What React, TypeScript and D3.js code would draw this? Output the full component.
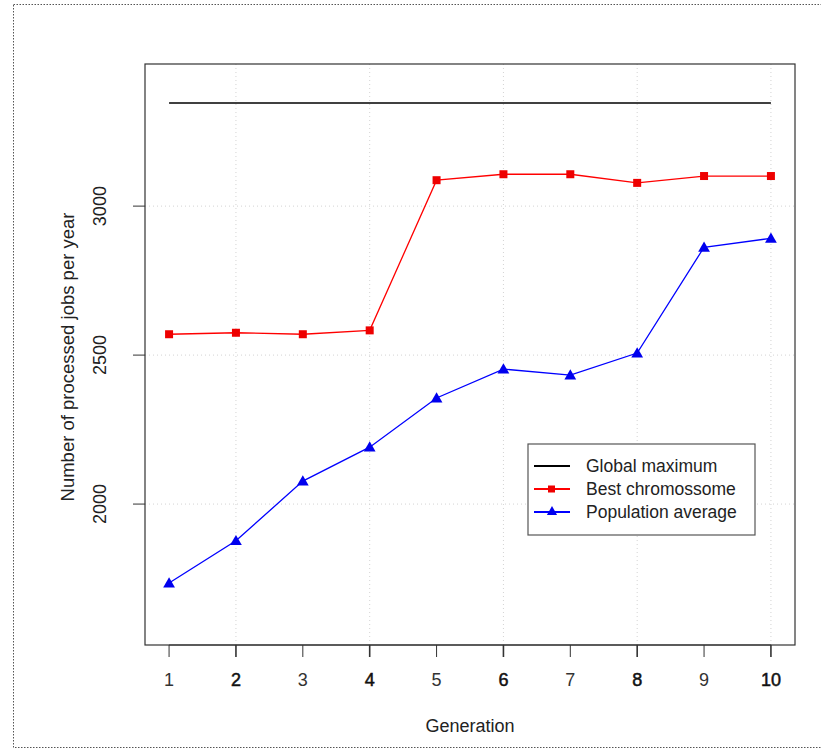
import React from 'react';
import * as d3 from 'd3';

const generations = [1, 2, 3, 4, 5, 6, 7, 8, 9, 10];
const globalMax = [3346, 3346, 3346, 3346, 3346, 3346, 3346, 3346, 3346, 3346];
const bestChromosome = [2570, 2575, 2570, 2583, 3087, 3107, 3107, 3078, 3101, 3101];
const populationAverage = [1735, 1877, 2077, 2191, 2356, 2453, 2433, 2507, 2862, 2892];
const yTicks = [2000, 2500, 3000];
const gridX = [2, 4, 6, 8, 10];
const legendLabels = ['Global maximum', 'Best chromossome', 'Population average'];

const App = () => {
  const width = 821;
  const height = 748;
  const left = 145;
  const right = 795;
  const top = 64;
  const bottom = 645;

  const x = d3.scaleLinear().domain([0.64, 10.36]).range([left, right]);
  const y = d3.scaleLinear().domain([1527, 3477]).range([bottom, top]);

  const line = d3
    .line<number>()
    .x((d, i) => x(generations[i]))
    .y((d) => y(d));

  const font = '"Liberation Sans", Arial, sans-serif';
  const tri = d3.symbol().type(d3.symbolTriangle).size(60)();

  const lx = 528;
  const ly = 444;
  const colors = ['#000000', '#ff0000', '#0000ff'];

  return (
    <svg
      width={width}
      height={height}
      style={{ position: 'absolute', left: 0, top: 0, fontFamily: font }}
    >
      <rect width={width} height={height} fill="#fff" />
      <rect
        x={13.5}
        y={4.5}
        width={width}
        height={743}
        fill="none"
        stroke="#555"
        strokeDasharray="1.5,1.5"
      />

      {/* grid */}
      {gridX.map((g) => (
        <line
          key={'gx' + g}
          x1={x(g)}
          x2={x(g)}
          y1={top}
          y2={bottom}
          stroke="#d3d3d3"
          strokeDasharray="1,3"
        />
      ))}
      {yTicks.map((t) => (
        <line
          key={'gy' + t}
          x1={left}
          x2={right}
          y1={y(t)}
          y2={y(t)}
          stroke="#d3d3d3"
          strokeDasharray="1,3"
        />
      ))}

      {/* box */}
      <rect
        x={left}
        y={top}
        width={right - left}
        height={bottom - top}
        fill="none"
        stroke="#333"
        strokeWidth={1.2}
      />

      {/* x axis */}
      <line x1={x(1)} x2={x(10)} y1={bottom} y2={bottom} stroke="#333" />
      {generations.map((g) => (
        <g key={'xt' + g}>
          <line x1={x(g)} x2={x(g)} y1={bottom} y2={bottom + 12} stroke="#333" strokeWidth={g % 2 === 0 ? 1.6 : 1} />
          <text
            x={x(g)}
            y={bottom + 41}
            textAnchor="middle"
            fontSize={18}
            fill={g % 2 === 0 ? '#111' : '#333'}
            stroke={g % 2 === 0 ? '#111' : 'none'}
            strokeWidth={0.5}
          >
            {g}
          </text>
        </g>
      ))}
      <text x={(left + right) / 2} y={732} textAnchor="middle" fontSize={18} fill="#222">
        Generation
      </text>

      {/* y axis */}
      {yTicks.map((t) => (
        <g key={'yt' + t}>
          <line x1={left - 12} x2={left} y1={y(t)} y2={y(t)} stroke="#333" />
          <text
            transform={`translate(${left - 45},${y(t)}) rotate(-90)`}
            textAnchor="middle"
            dy="0.35em"
            fontSize={18}
            fill="#222"
          >
            {t}
          </text>
        </g>
      ))}
      <text
        transform={`translate(68,357) rotate(-90)`}
        textAnchor="middle"
        dy="0.35em"
        fontSize={18.5}
        fill="#222"
      >
        Number of processed jobs per year
      </text>

      {/* series */}
      <path d={line(globalMax) || ''} fill="none" stroke="#000" strokeWidth={1.5} />
      <path d={line(bestChromosome) || ''} fill="none" stroke="#ff0000" strokeWidth={1.3} />
      {bestChromosome.map((v, i) => (
        <rect key={'b' + i} x={x(generations[i]) - 4} y={y(v) - 4} width={8} height={8} fill="#ee0000" />
      ))}
      <path d={line(populationAverage) || ''} fill="none" stroke="#0000ff" strokeWidth={1.3} />
      {populationAverage.map((v, i) => (
        <path
          key={'p' + i}
          d={tri || ''}
          transform={`translate(${x(generations[i])},${y(v) + 1})`}
          fill="#0000ee"
        />
      ))}

      {/* legend */}
      <rect x={lx} y={ly} width={227} height={91} fill="#fff" stroke="#555" strokeWidth={1.2} />
      {legendLabels.map((label, i) => {
        const cy = ly + 22 + i * 23;
        return (
          <g key={label}>
            <line x1={lx + 6} x2={lx + 42} y1={cy} y2={cy} stroke={colors[i]} strokeWidth={1.8} />
            {i === 1 && <rect x={lx + 20} y={cy - 3.5} width={7} height={7} fill="#ee0000" />}
            {i === 2 && (
              <path d={d3.symbol().type(d3.symbolTriangle).size(45)() || ''} transform={`translate(${lx + 24},${cy})`} fill="#0000ee" />
            )}
            <text x={lx + 58} y={cy} dy="0.35em" fontSize={17.5} fill="#222">
              {label}
            </text>
          </g>
        );
      })}
    </svg>
  );
};

export default App;
